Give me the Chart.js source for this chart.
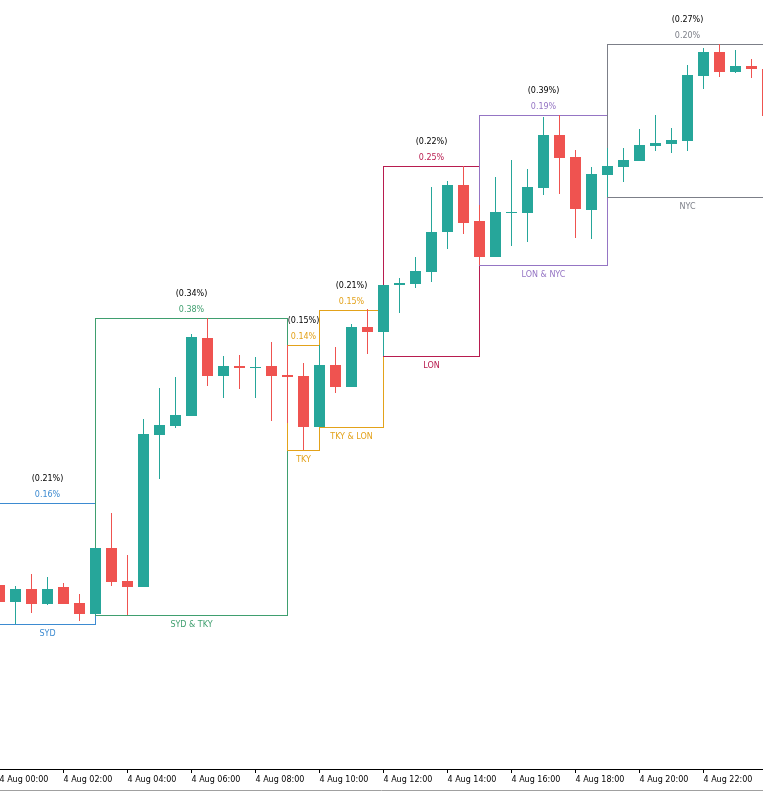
<!DOCTYPE html>
<html>
<head>
<meta charset="utf-8">
<script src="https://cdn.jsdelivr.net/npm/chart.js@4.4.0/dist/chart.umd.min.js"></script>
<style>
  html, body { margin: 0; padding: 0; background: #fff; }
  #wrap { width: 763px; height: 791px; position: relative; }
</style>
</head>
<body>
<div id="wrap"><canvas id="sessionChart"></canvas></div>
<script>
// 30 minute candles from 4 Aug 00:00, x value = number of half hours
var candleIdx = [0, 1, 2, 3, 4, 5, 6, 7, 8, 9, 10, 11, 12, 13, 14, 15, 16, 17, 18, 19, 20, 21, 22, 23, 24,
                 25, 26, 27, 28, 29, 30, 31, 32, 33, 34, 35, 36, 37, 38, 39, 40, 41, 42, 43, 44, 45, 46, 47, 48];
var opens = [0.77184, 0.77167, 0.77180, 0.77165, 0.77182, 0.77166, 0.77155, 0.77221, 0.77188, 0.77182,
             0.77334, 0.77343, 0.77353, 0.77431, 0.77393, 0.77403, 0.77401, 0.77403, 0.77394, 0.77393,
             0.77342, 0.77404, 0.77382, 0.77442, 0.77437, 0.77484, 0.77485, 0.77497, 0.77537, 0.77584,
             0.77548, 0.77512, 0.77556, 0.77556, 0.77581, 0.77634, 0.77612, 0.77559, 0.77594, 0.77602,
             0.77608, 0.77623, 0.77625, 0.77628, 0.77693, 0.77717, 0.77697, 0.77703, 0.77700];
var highs = [0.77186, 0.77183, 0.77195, 0.77192, 0.77186, 0.77175, 0.77221, 0.77256, 0.77214, 0.77350,
             0.77381, 0.77392, 0.77435, 0.77451, 0.77413, 0.77414, 0.77412, 0.77427, 0.77424, 0.77406,
             0.77424, 0.77422, 0.77445, 0.77460, 0.77484, 0.77491, 0.77512, 0.77582, 0.77588, 0.77603,
             0.77564, 0.77592, 0.77609, 0.77600, 0.77652, 0.77654, 0.77619, 0.77602, 0.77621, 0.77621,
             0.77640, 0.77654, 0.77641, 0.77704, 0.77721, 0.77725, 0.77719, 0.77710, 0.77700];
var lows = [0.77164, 0.77145, 0.77156, 0.77164, 0.77165, 0.77148, 0.77154, 0.77183, 0.77154, 0.77182,
            0.77290, 0.77341, 0.77353, 0.77383, 0.77371, 0.77380, 0.77371, 0.77348, 0.77346, 0.77319,
            0.77342, 0.77376, 0.77382, 0.77415, 0.77413, 0.77456, 0.77481, 0.77487, 0.77520, 0.77535,
            0.77504, 0.77512, 0.77523, 0.77527, 0.77574, 0.77575, 0.77531, 0.77530, 0.77572, 0.77587,
            0.77608, 0.77618, 0.77616, 0.77618, 0.77680, 0.77692, 0.77696, 0.77691, 0.77652];
var closes = [0.77167, 0.77180, 0.77165, 0.77180, 0.77165, 0.77155, 0.77221, 0.77187, 0.77182, 0.77335,
              0.77344, 0.77354, 0.77432, 0.77393, 0.77403, 0.77401, 0.77402, 0.77393, 0.77392, 0.77342,
              0.77404, 0.77382, 0.77442, 0.77437, 0.77484, 0.77486, 0.77498, 0.77537, 0.77584, 0.77546,
              0.77512, 0.77557, 0.77557, 0.77582, 0.77634, 0.77611, 0.77560, 0.77595, 0.77603, 0.77609,
              0.77624, 0.77626, 0.77629, 0.77694, 0.77717, 0.77697, 0.77703, 0.77700, 0.77653];

// sessions (SYD starts before the visible window)
var sessionNames = ['SYD', 'SYD & TKY', 'TKY', 'TKY & LON', 'LON', 'LON & NYC', 'NYC'];
var sessionStart = [-4, 6, 18, 20, 24, 30, 38];
var sessionEnd = [6, 18, 20, 24, 30, 38, 48];
var sessionLabelAt = [3, 12, 19, 22, 27, 34, 43];
var sessionHigh = [0.77266, 0.77451, 0.77424, 0.77459, 0.77603, 0.77654, 0.77725];
var sessionLow = [0.77145, 0.77154, 0.77319, 0.77342, 0.77413, 0.77504, 0.77572];
var sessionRange = ['0.16%', '0.38%', '0.14%', '0.15%', '0.25%', '0.19%', '0.20%'];
var sessionAvg = ['(0.21%)', '(0.34%)', '(0.15%)', '(0.21%)', '(0.22%)', '(0.39%)', '(0.27%)'];
var sessionColors = ['#3d8bd1', '#3f9f6f', '#e3a21a', '#e3a21a', '#b81c4f', '#9575c4', '#7c7f88'];

var tickIdx = [0, 4, 8, 12, 16, 20, 24, 28, 32, 36, 40, 44];
var tickLabels = ['4 Aug 00:00', '4 Aug 02:00', '4 Aug 04:00', '4 Aug 06:00', '4 Aug 08:00', '4 Aug 10:00',
                  '4 Aug 12:00', '4 Aug 14:00', '4 Aug 16:00', '4 Aug 18:00', '4 Aug 20:00', '4 Aug 22:00'];

var bull = '#26a69a', bear = '#ef5350';
var candleColors = candleIdx.map(function (x, i) { return closes[i] >= opens[i] ? bull : bear; });
var bodies = candleIdx.map(function (x, i) { return { x: x, y: [opens[i], closes[i]] }; });
var wicks = candleIdx.map(function (x, i) { return { x: x, y: [lows[i], highs[i]] }; });

var sessionBoxes = {
    id: 'sessionBoxes',
    beforeDatasetsDraw: function (chart) {
        var c = chart.ctx, xs = chart.scales.x, ys = chart.scales.y;
        c.save();
        c.lineWidth = 1;
        c.font = '8px "DejaVu Sans"';
        c.textAlign = 'center';
        c.textBaseline = 'alphabetic';
        sessionNames.forEach(function (name, k) {
            var x1 = Math.floor(xs.getPixelForValue(sessionStart[k])) + 0.5;
            var x2 = Math.floor(xs.getPixelForValue(sessionEnd[k])) + 0.5;
            var y1 = Math.round(ys.getPixelForValue(sessionHigh[k])) + 0.5;
            var y2 = Math.round(ys.getPixelForValue(sessionLow[k])) + 0.5;
            var mid = xs.getPixelForValue(sessionLabelAt[k]);
            c.strokeStyle = sessionColors[k];
            c.strokeRect(x1, y1, x2 - x1, y2 - y1);
            c.fillStyle = sessionColors[k];
            c.fillText(sessionRange[k], mid, y1 - 7);
            c.fillText(name, mid, y2 + 11);
            c.fillStyle = '#000';
            c.fillText(sessionAvg[k], mid, y1 - 23);
        });
        c.restore();
    },
    afterDraw: function (chart) {
        var c = chart.ctx;
        c.save();
        c.strokeStyle = '#a0a0a0';
        c.lineWidth = 1;
        c.beginPath();
        c.moveTo(0, 790.5);
        c.lineTo(chart.width, 790.5);
        c.stroke();
        c.restore();
    }
};

var ctx = document.getElementById('sessionChart').getContext('2d');
var sessionChart = new Chart(ctx, {
    type: 'bar',
    data: {
        datasets: [
            {
                label: 'body',
                data: bodies,
                backgroundColor: candleColors,
                barThickness: 11,
                minBarLength: 1,
                grouped: false,
                inflateAmount: 0
            },
            {
                label: 'wick',
                data: wicks,
                backgroundColor: candleColors,
                barThickness: 1,
                grouped: false,
                inflateAmount: 0
            }
        ]
    },
    options: {
        responsive: true,
        maintainAspectRatio: false,
        animation: false,
        layout: { padding: 0 },
        plugins: {
            legend: { display: false },
            tooltip: { enabled: false }
        },
        scales: {
            x: {
                type: 'linear',
                min: 0.5 / 16,
                max: 763.5 / 16,
                offset: false,
                afterBuildTicks: function (scale) {
                    scale.ticks = tickIdx.map(function (v) { return { value: v }; });
                },
                afterFit: function (scale) {
                    // no extra side padding for the first label, the area must start at x = 0
                    scale.height = 22;
                    scale.paddingLeft = 0;
                    scale.paddingRight = 0;
                },
                border: { display: true, color: '#000' },
                grid: { display: true, drawOnChartArea: false, offset: false, tickLength: 4, color: '#000' },
                ticks: {
                    align: 'start',
                    autoSkip: false,
                    maxRotation: 0,
                    minRotation: 0,
                    padding: 2,
                    color: '#000',
                    font: { family: 'DejaVu Sans', size: 8 },
                    callback: function (value, index) { return tickLabels[index]; }
                }
            },
            y: {
                display: false,
                min: 0.77,
                max: 0.77769
            }
        }
    },
    plugins: [sessionBoxes]
});
</script>
</body>
</html>
